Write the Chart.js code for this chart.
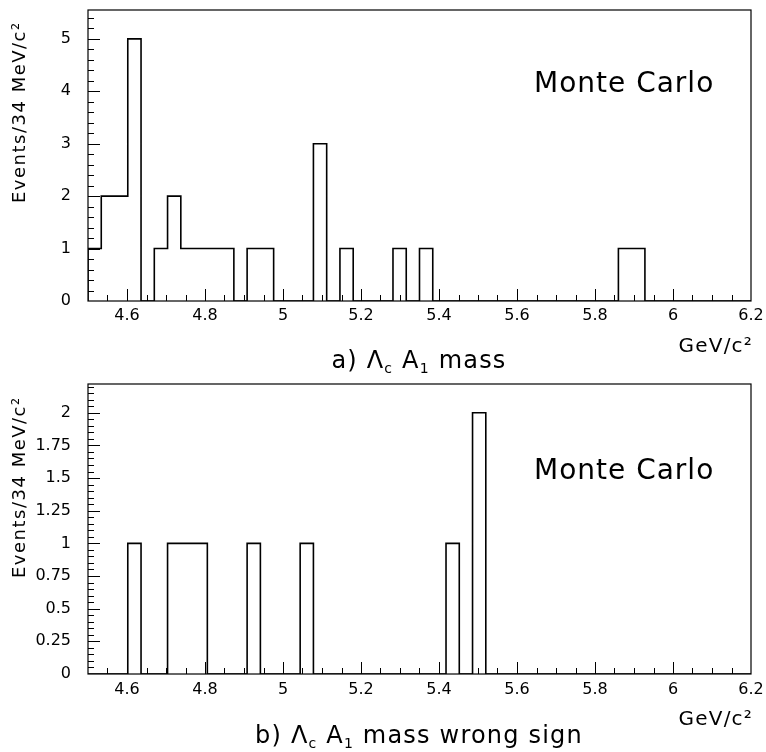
<!DOCTYPE html>
<html><head><meta charset="utf-8">
<script src="https://cdn.jsdelivr.net/npm/chart.js@4.4.1/dist/chart.umd.min.js"></script>
<style>
html,body{margin:0;padding:0;background:#fff;}
#wrap{position:relative;width:766px;height:752px;overflow:hidden;background:#fff;}
#c1{position:absolute;left:0;top:0;}
#c2{position:absolute;left:0;top:370px;}
</style></head><body>
<div id="wrap"><canvas id="c1" width="766" height="382"></canvas><canvas id="c2" width="766" height="382"></canvas></div>
<script>
// ---- data ----
const binLowEdges = [4.500,4.534,4.568,4.602,4.636,4.670,4.704,4.738,4.772,4.806,
  4.840,4.874,4.908,4.942,4.976,5.010,5.044,5.078,5.112,5.146,
  5.180,5.214,5.248,5.282,5.316,5.350,5.384,5.418,5.452,5.486,
  5.520,5.554,5.588,5.622,5.656,5.690,5.724,5.758,5.792,5.826,
  5.860,5.894,5.928,5.962,5.996,6.030,6.064,6.098,6.132,6.166];
const histUpperEdge = 6.200;
const countsA = [1,2,2,5,0,1,2,1,1,1, 1,0,1,1,0,0,0,3,0,1, 0,0,0,1,0,1,0,0,0,0, 0,0,0,0,0,0,0,0,0,0, 1,1,0,0,0,0,0,0,0,0];
const countsB = [0,0,0,1,0,0,1,1,1,0, 0,0,1,0,0,0,1,0,0,0, 0,0,0,0,0,0,0,1,0,2, 0,0,0,0,0,0,0,0,0,0, 0,0,0,0,0,0,0,0,0,0];
const xTickValues = [4.6,4.8,5,5.2,5.4,5.6,5.8,6,6.2];
const xTickLabels = ["4.6","4.8","5","5.2","5.4","5.6","5.8","6","6.2"];
const yTickValuesA = [0,1,2,3,4,5];
const yTickLabelsA = ["0","1","2","3","4","5"];
const yTickValuesB = [0,0.25,0.5,0.75,1,1.25,1.5,1.75,2];
const yTickLabelsB = ["0","0.25","0.5","0.75","1","1.25","1.5","1.75","2"];
const yTitle = "Events/34 MeV/c\u00B2";
const xUnit = "GeV/c\u00B2";
const label = "Monte Carlo";
const captionA = [{t:"a) \u039B"},{t:"c",sub:true},{t:" A"},{t:"1",sub:true},{t:" mass"}];
const captionB = [{t:"b) \u039B"},{t:"c",sub:true},{t:" A"},{t:"1",sub:true},{t:" mass wrong sign"}];

const FONT = "'DejaVu Sans'";

function histPoints(counts){
  const pts = [{x: binLowEdges[0], y: 0}];
  counts.forEach((c,i)=>pts.push({x: binLowEdges[i], y: c}));
  pts.push({x: histUpperEdge, y: 0});
  return pts;
}

function drawRich(ctx, parts, x, y, size, spacing, align){
  const sub = Math.round(size*0.6);
  ctx.letterSpacing = spacing + 'px';
  let w = 0;
  const widths = parts.map(p=>{ ctx.font = (p.sub?sub:size)+'px '+FONT; const m = ctx.measureText(p.t).width; w += m; return m; });
  let cx = align==='center' ? x - w/2 : (align==='right' ? x - w : x);
  parts.forEach((p,i)=>{
    ctx.font = (p.sub?sub:size)+'px '+FONT;
    ctx.fillText(p.t, cx, p.sub ? y + size*0.22 : y);
    cx += widths[i];
  });
  ctx.letterSpacing = '0px';
}

const histPlugin = {
  id: 'hist',
  afterDatasetsDraw(chart, args, o){
    const ctx = chart.ctx, a = chart.chartArea;
    const xs = chart.scales.x, ys = chart.scales.y;
    ctx.save();
    ctx.strokeStyle = '#000'; ctx.fillStyle = '#000';
    ctx.lineWidth = 1.2;
    ctx.strokeRect(a.left, a.top, a.right - a.left, a.bottom - a.top);
    ctx.lineWidth = 1;
    // x ticks (inside)
    for (let k = 1; k < 34; k++){
      const v = 4.5 + k*0.05;
      const major = xTickValues.some(t=>Math.abs(t-v)<1e-6);
      const px = Math.round(xs.getPixelForValue(v)) + 0.5;
      ctx.beginPath(); ctx.moveTo(px, a.bottom); ctx.lineTo(px, a.bottom - (major?12:6)); ctx.stroke();
    }
    // y ticks (inside)
    const n = Math.floor(o.yMax/o.minorY + 1e-6);
    for (let k = 1; k <= n; k++){
      const v = k*o.minorY;
      const major = o.yTicks.some(t=>Math.abs(t-v)<1e-6);
      const py = Math.round(ys.getPixelForValue(v)) + 0.5;
      ctx.beginPath(); ctx.moveTo(a.left, py); ctx.lineTo(a.left + (major?12:6), py); ctx.stroke();
    }
    ctx.restore();
  },
  afterDraw(chart, args, o){
    const ctx = chart.ctx;
    ctx.save();
    ctx.fillStyle = '#000';
    ctx.textBaseline = 'alphabetic';
    // y title rotated
    ctx.save();
    ctx.translate(o.yTitleX, o.yTitleY);
    ctx.rotate(-Math.PI/2);
    ctx.font = '18px '+FONT; ctx.letterSpacing = '1.5px';
    ctx.textAlign = 'left';
    ctx.fillText(yTitle, 0, 0);
    ctx.restore();
    ctx.textAlign = 'left';
    // Monte Carlo
    ctx.font = '28px '+FONT; ctx.letterSpacing = '1px';
    ctx.fillText(label, o.mcX, o.mcY);
    // unit
    ctx.font = '20px '+FONT; ctx.letterSpacing = '1.2px';
    ctx.textAlign = 'right';
    ctx.fillText(xUnit, o.unitX, o.unitY);
    ctx.textAlign = 'left';
    // caption
    drawRich(ctx, o.caption, o.capX, o.capY, 24, 1.2, 'center');
    ctx.restore();
  }
};

function zeroPad(s){ s.paddingTop = 0; s.paddingBottom = 0; s.paddingLeft = 0; s.paddingRight = 0; }

function makeChart(canvas, counts, yMax, yTicks, yLabels, o){
  return new Chart(canvas, {
    type: 'line',
    data: { datasets: [{ data: histPoints(counts), stepped: true, borderColor: '#000', borderWidth: 1.6,
      pointRadius: 0, fill: false, tension: 0, borderJoinStyle: 'miter', borderCapStyle: 'butt' }] },
    options: {
      responsive: false, animation: false, devicePixelRatio: 1,
      layout: { padding: { left: 0, right: 15, top: o.top, bottom: 0 } },
      plugins: { legend: { display: false }, tooltip: { enabled: false },
        hist: Object.assign({ yMax: yMax, yTicks: yTicks }, o) },
      scales: {
        x: { type: 'linear', min: 4.5, max: 6.2,
          grid: { display: false, drawTicks: false }, border: { display: false },
          afterBuildTicks: s => { s.ticks = xTickValues.map(v => ({ value: v })); },
          ticks: { autoSkip: false, maxRotation: 0, minRotation: 0, padding: o.xPad, color: '#000',
            font: { family: 'DejaVu Sans', size: 16 }, callback: (v, i) => xTickLabels[i] },
          afterFit: s => { s.height = o.xh; zeroPad(s); } },
        y: { type: 'linear', min: 0, max: yMax,
          grid: { display: false, drawTicks: false }, border: { display: false },
          afterBuildTicks: s => { s.ticks = yTicks.map(v => ({ value: v })); },
          ticks: { autoSkip: false, padding: 17, color: '#000',
            font: { family: 'DejaVu Sans', size: 16 }, callback: (v, i) => yLabels[i] },
          afterFit: s => { s.width = 88; zeroPad(s); } }
      }
    },
    plugins: [histPlugin]
  });
}

makeChart(document.getElementById('c1'), countsA, 5.55, yTickValuesA, yTickLabelsA,
  { top: 10, xh: 81, xPad: 5, minorY: 0.2, yTitleX: 25, yTitleY: 203,
    mcX: 534, mcY: 92, unitX: 753, unitY: 352, capX: 419, capY: 368, caption: captionA });
makeChart(document.getElementById('c2'), countsB, 2.22, yTickValuesB, yTickLabelsB,
  { top: 14, xh: 78, xPad: 6, minorY: 0.05, yTitleX: 25, yTitleY: 208,
    mcX: 534, mcY: 109, unitX: 753, unitY: 355, capX: 419, capY: 373, caption: captionB });
</script>
</body></html>
